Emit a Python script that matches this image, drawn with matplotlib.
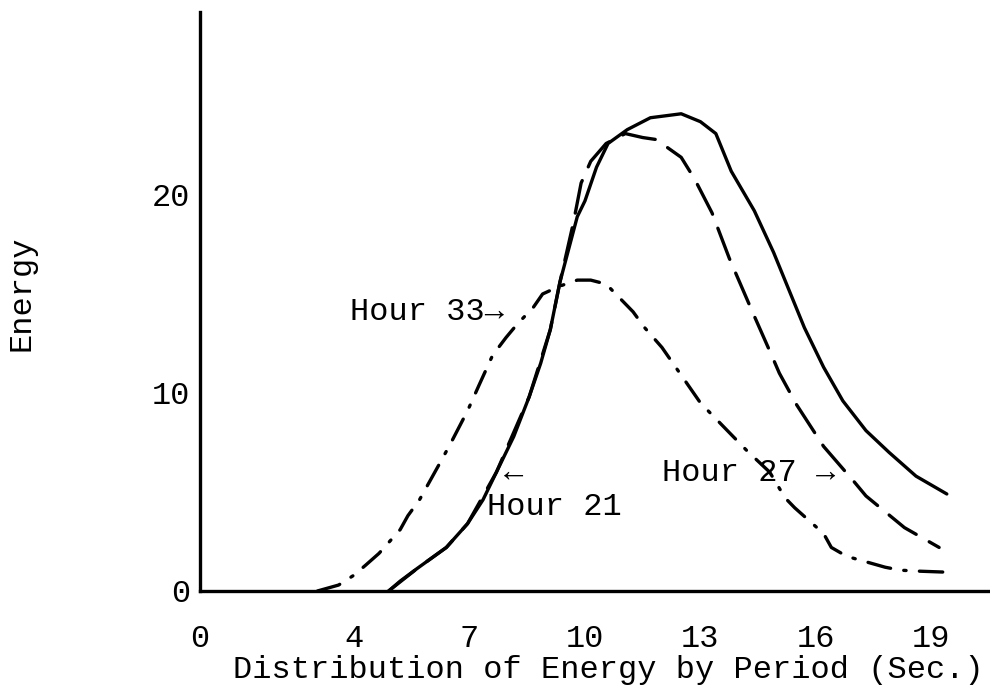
import matplotlib
matplotlib.use("Agg")
import matplotlib.pyplot as plt

# Hour 21 (solid)
h21_x = [4.9, 5.2, 5.65, 6.4, 6.95, 7.35, 7.7, 8.15, 8.55, 8.85, 9.1, 9.35, 9.8, 10.0,
         10.3, 10.6, 11.1, 11.7, 12.1, 12.5, 13.0, 13.4, 13.8, 14.4, 14.9, 15.3, 15.7,
         16.2, 16.7, 17.3, 17.9, 18.6, 19.4]
h21_y = [0.0, 0.5, 1.15, 2.2, 3.4, 4.6, 6.0, 7.8, 9.8, 11.5, 13.2, 15.6, 18.9, 19.7,
         21.4, 22.6, 23.3, 23.9, 24.0, 24.1, 23.7, 23.1, 21.2, 19.2, 17.1, 15.2, 13.3,
         11.3, 9.6, 8.1, 7.0, 5.8, 4.9]

# Hour 27 (dashed)
h27_x = [4.9, 5.65, 6.4, 6.95, 7.7, 8.55, 9.1, 9.35, 9.7, 9.9, 10.15, 10.55, 11.05, 11.5,
         11.85, 12.5, 12.85, 13.3, 13.75, 14.35, 14.85, 15.05, 15.5, 16.2, 17.0, 17.3,
         18.05, 18.3, 19.2]
h27_y = [0.0, 1.15, 2.2, 3.4, 6.0, 9.8, 13.2, 15.6, 18.6, 20.6, 21.7, 22.6, 23.1, 22.9,
         22.8, 21.9, 20.8, 19.1, 16.8, 14.1, 11.9, 11.0, 9.4, 7.3, 5.5, 4.8,
         3.6, 3.2, 2.2]

# Hour 33 (dash-dot)
h33_x = [3.05, 3.6, 4.0, 4.3, 4.65, 5.2, 5.4, 5.7, 6.1, 6.3, 6.55, 6.95, 7.25, 7.6, 7.95,
         8.25, 8.65, 8.9, 9.35, 9.8, 10.15, 10.55, 11.25, 11.55, 12.0, 12.5, 13.0, 13.6,
         14.2, 14.8, 15.2, 15.45, 16.2, 16.4, 16.8, 17.8, 18.2, 18.7, 19.4]
h33_y = [0.0, 0.3, 0.8, 1.3, 1.9, 3.1, 3.8, 4.6, 6.0, 6.7, 7.6, 9.1, 10.4, 11.9, 12.8,
         13.5, 14.3, 15.0, 15.4, 15.7, 15.7, 15.5, 14.1, 13.3, 12.3, 10.9, 9.5, 8.3,
         7.1, 6.0, 4.7, 4.2, 2.9, 2.2, 1.75, 1.2, 1.05, 1.0, 0.95]

x_ticks = [0, 4, 7, 10, 13, 16, 19]
y_ticks = [0, 10, 20]

font = ["Liberation Mono", "DejaVu Sans Mono"]
fs = 23

fig = plt.figure(figsize=(9.9, 6.89), dpi=100)
ax = fig.add_axes([200 / 990, 98 / 689, 788 / 990, 579 / 689])

lw = 2.4
ax.plot(h21_x, h21_y, color="black", lw=lw, solid_capstyle="round",
        solid_joinstyle="round")
ax.plot(h27_x, h27_y, color="black", lw=lw, linestyle=(0, (10, 4.5)),
        dash_capstyle="round", dash_joinstyle="round")
ax.plot(h33_x, h33_y, color="black", lw=lw, linestyle=(0, (7, 4, 0.7, 4)),
        dash_capstyle="round", dash_joinstyle="round")

ax.set_xlim(0, 20.47)
ax.set_ylim(0, 29.24)
ax.set_xticks(x_ticks)
ax.set_yticks(y_ticks)
ax.tick_params(length=0)
ax.tick_params(axis="x", pad=24)
ax.tick_params(axis="y", pad=7)
for lab in ax.get_xticklabels() + ax.get_yticklabels():
    lab.set_family(font)
    lab.set_fontsize(fs)

for side in ["top", "right"]:
    ax.spines[side].set_visible(False)
for side in ["left", "bottom"]:
    ax.spines[side].set_linewidth(2.4)

ax.set_xlabel("Distribution of Energy by Period (Sec.)", family=font, fontsize=fs)
ax.xaxis.set_label_coords(0.518, -0.137)
ax.xaxis.label.set_va("center")
ax.set_ylabel("Energy", family=font, fontsize=fs)
ax.yaxis.set_label_coords(-0.226, 0.515)
ax.yaxis.label.set_va("center")

ax.text(3.9, 14.1, "Hour 33\u2192", family=font, fontsize=fs, ha="left", va="center")
ax.text(7.45, 4.24, "Hour 21", family=font, fontsize=fs, ha="left", va="center")
ax.text(8.15, 5.96, "\u2190", family=font, fontsize=fs, ha="center", va="center")
ax.text(12.0, 5.96, "Hour 27", family=font, fontsize=fs, ha="left", va="center")
ax.text(16.25, 5.96, "\u2192", family=font, fontsize=fs, ha="center", va="center")

fig.savefig("out.png", dpi=100)
